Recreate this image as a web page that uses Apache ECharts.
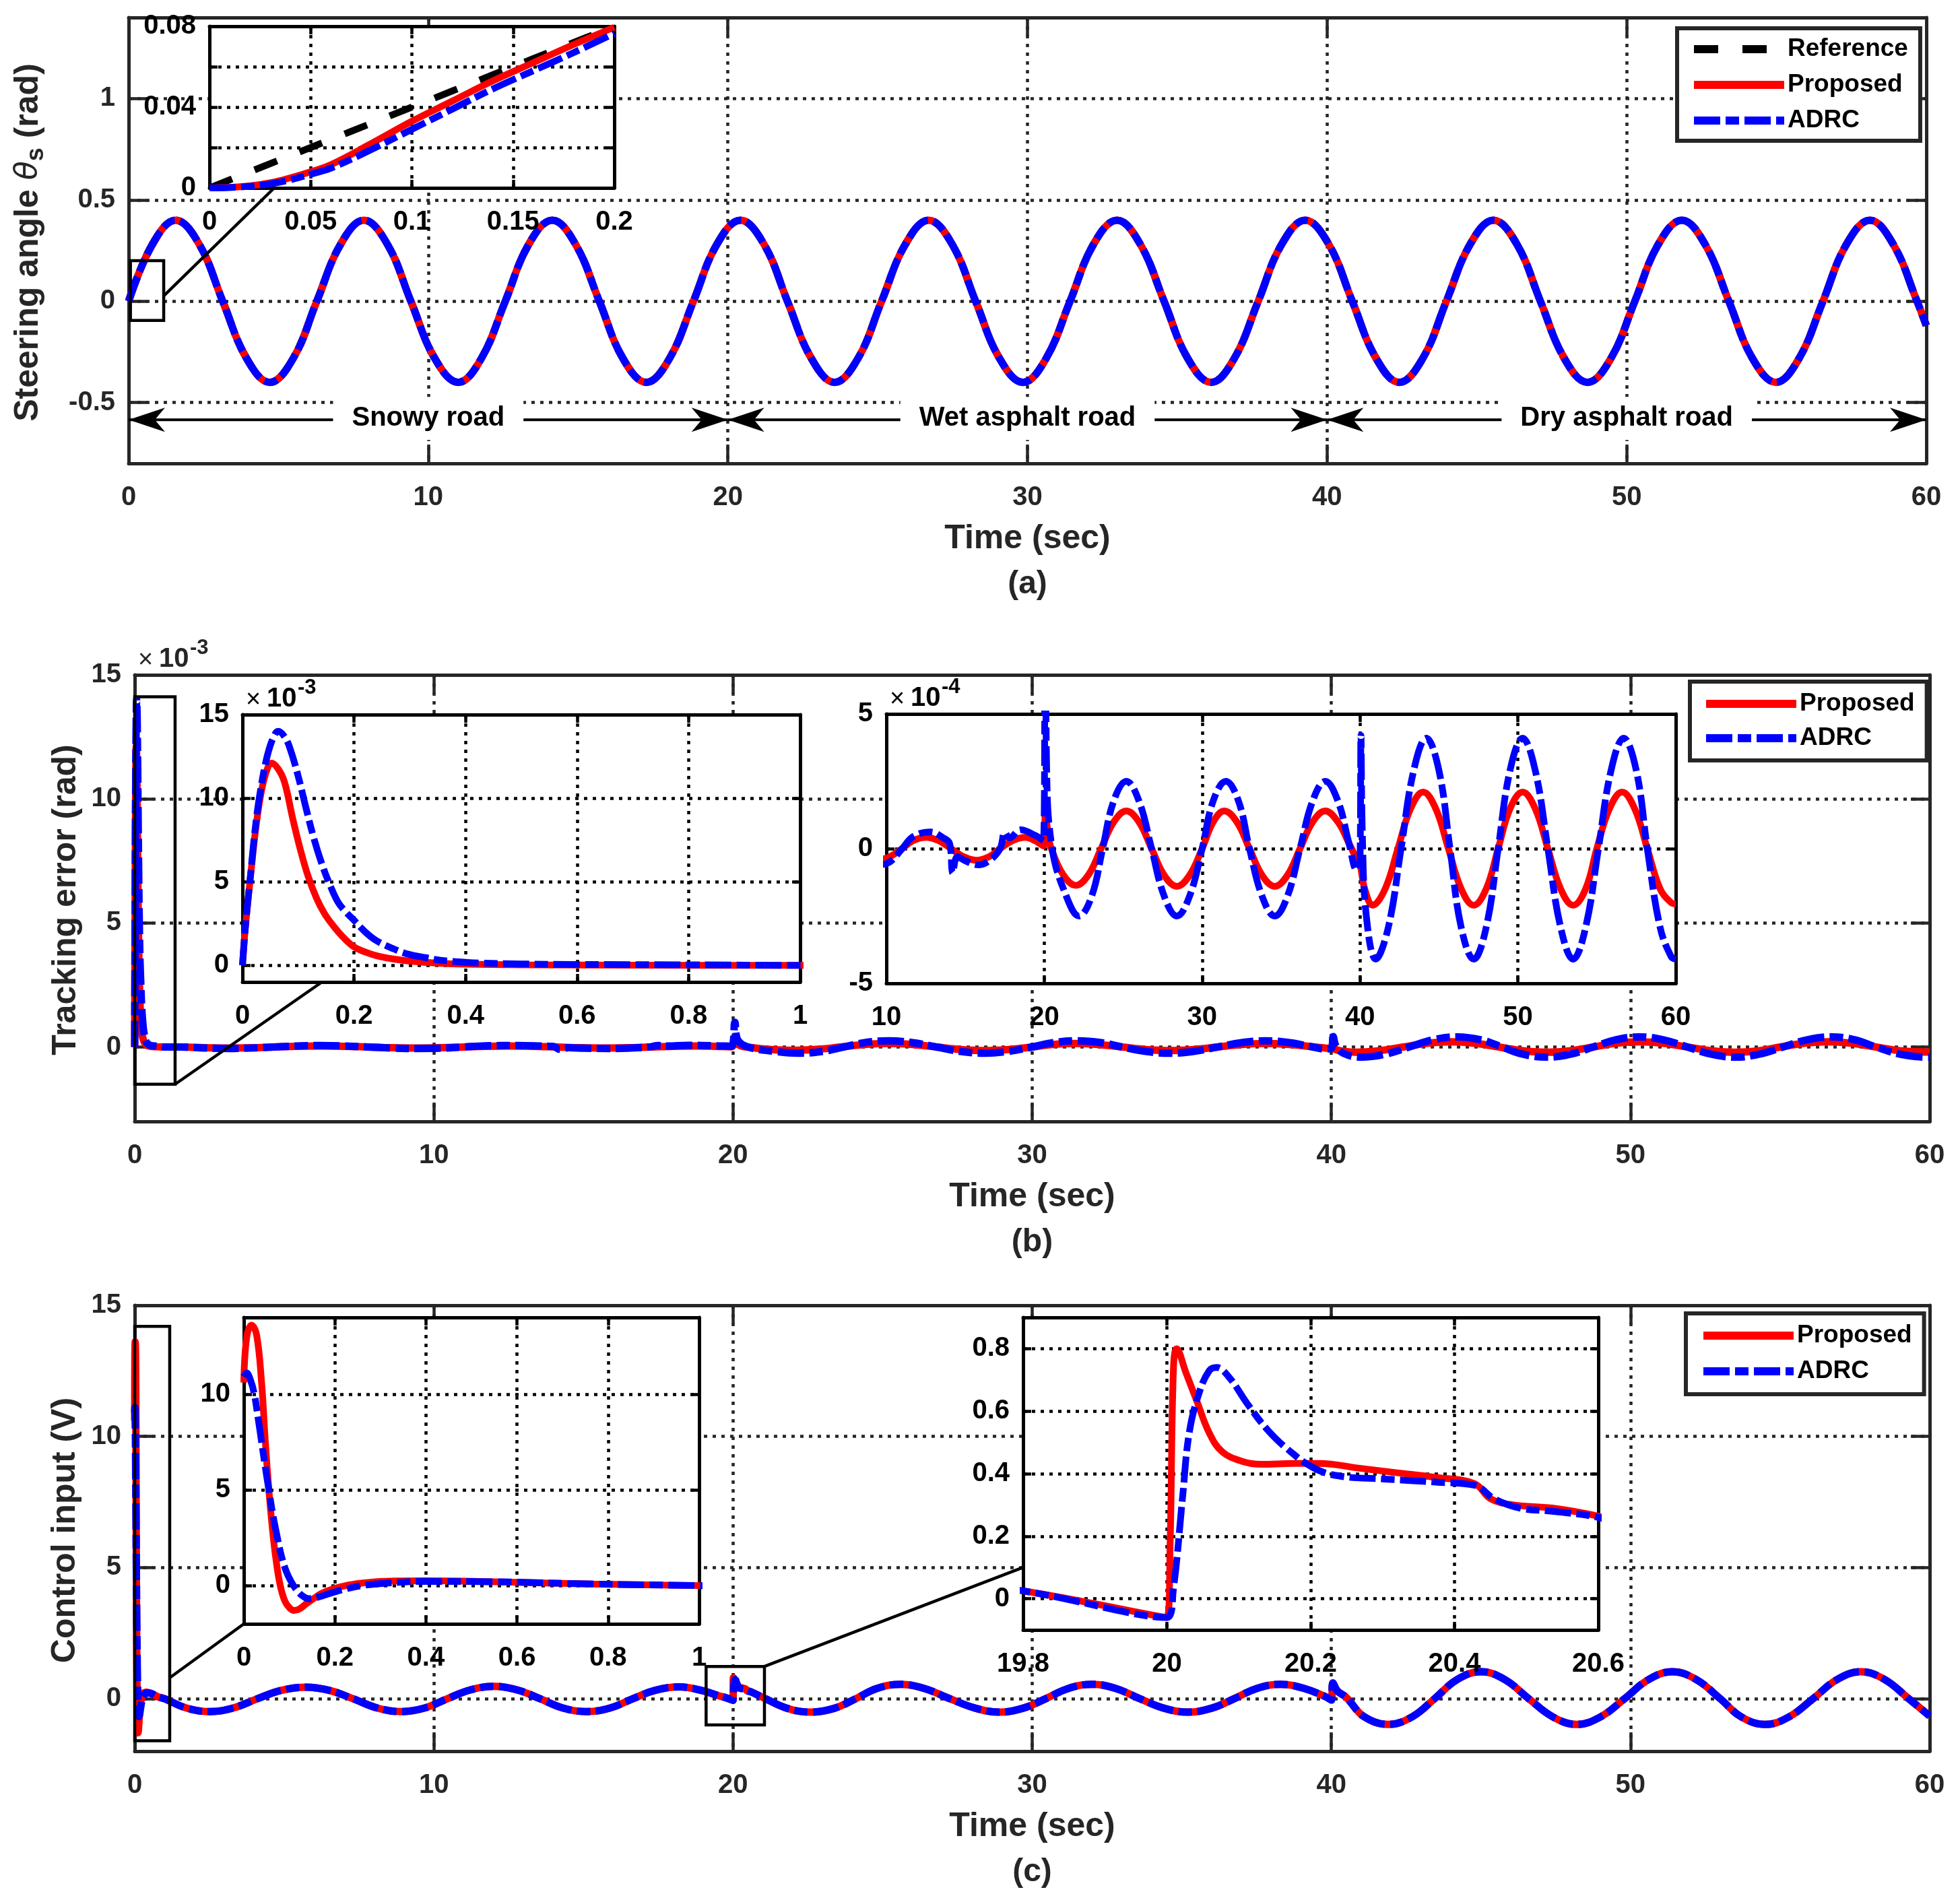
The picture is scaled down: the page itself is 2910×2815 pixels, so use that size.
<!DOCTYPE html>
<html>
<head>
<meta charset="utf-8">
<title>Steering angle, tracking error and control input</title>
<script src="https://cdn.jsdelivr.net/npm/echarts@6.0.0/dist/echarts.min.js"></script>
<style>
  html, body { margin: 0; padding: 0; background: #fff; }
  #chart { width: 2910px; height: 2815px; }
</style>
</head>
<body>
<div id="chart"></div>
<script>
// ---------- (a) steering angle (rad), read at peaks, zero crossings and mid points ----------
const steerTime = [
  0, 0.79, 1.57, 2.36, 3.14, 3.93, 4.71, 5.50,
  6.28, 7.07, 7.85, 8.64, 9.42, 10.21, 11.00, 11.78,
  12.57, 13.35, 14.14, 14.92, 15.71, 16.49, 17.28, 18.06,
  18.85, 19.63, 20.42, 21.21, 21.99, 22.78, 23.56, 24.35,
  25.13, 25.92, 26.70, 27.49, 28.27, 29.06, 29.85, 30.63,
  31.42, 32.20, 32.99, 33.77, 34.56, 35.34, 36.13, 36.91,
  37.70, 38.48, 39.27, 40.06, 40.84, 41.63, 42.41, 43.20,
  43.98, 44.77, 45.55, 46.34, 47.12, 47.91, 48.69, 49.48,
  50.27, 51.05, 51.84, 52.62, 53.41, 54.19, 54.98, 55.76,
  56.55, 57.33, 58.12, 58.90, 59.69, 60
];
const steerAngle = [
  0, 0.28, 0.40, 0.28, 0, -0.28, -0.40, -0.28,
  0, 0.28, 0.40, 0.28, 0, -0.28, -0.40, -0.28,
  0, 0.28, 0.40, 0.28, 0, -0.28, -0.40, -0.28,
  0, 0.28, 0.40, 0.28, 0, -0.28, -0.40, -0.28,
  0, 0.28, 0.40, 0.28, 0, -0.28, -0.40, -0.28,
  0, 0.28, 0.40, 0.28, 0, -0.28, -0.40, -0.28,
  0, 0.28, 0.40, 0.28, 0, -0.28, -0.40, -0.28,
  0, 0.28, 0.40, 0.28, 0, -0.28, -0.40, -0.28,
  0, 0.28, 0.40, 0.28, 0, -0.28, -0.40, -0.28,
  0, 0.28, 0.40, 0.28, 0, -0.12
];

// (a) zoom on the first 0.2 s
const startTime     = [0, 0.01, 0.02, 0.03, 0.04, 0.05, 0.06, 0.08, 0.10, 0.12, 0.14, 0.16, 0.18, 0.20];
const startRef      = [0, 0.004, 0.008, 0.012, 0.016, 0.020, 0.024, 0.032, 0.040, 0.048, 0.056, 0.064, 0.072, 0.080];
const startProposed = [0, 0.0003, 0.001, 0.0025, 0.005, 0.008, 0.0115, 0.022, 0.033, 0.043, 0.053, 0.062, 0.071, 0.0795];
const startAdrc     = [0, 0.0002, 0.0008, 0.002, 0.004, 0.0068, 0.0098, 0.019, 0.029, 0.039, 0.049, 0.058, 0.067, 0.0765];

// ---------- (b) tracking error, in 1e-3 rad ----------
const errProposedStart = [
  [0, 0], [0.005, 2.2], [0.015, 5.5], [0.025, 8.5], [0.035, 10.6], [0.045, 11.8], [0.052, 12.1],
  [0.063, 11.8], [0.075, 11.0], [0.09, 8.8], [0.104, 6.9], [0.118, 5.3], [0.133, 4.0], [0.147, 3.1],
  [0.162, 2.4], [0.18, 1.7], [0.2, 1.1], [0.22, 0.8], [0.24, 0.58], [0.27, 0.38], [0.3, 0.25],
  [0.35, 0.13], [0.4, 0.07], [0.5, 0.03], [0.7, 0.01], [1.0, 0]
];
const errAdrcStart = [
  [0, 0], [0.005, 2.2], [0.015, 5.6], [0.025, 8.8], [0.035, 11.0], [0.045, 12.6], [0.055, 13.6],
  [0.064, 14.0], [0.075, 13.7], [0.085, 13.0], [0.1, 11.3], [0.114, 9.4], [0.128, 7.6], [0.143, 6.0],
  [0.157, 4.8], [0.171, 3.8], [0.185, 3.2], [0.2, 2.7], [0.22, 2.0], [0.239, 1.5], [0.27, 1.0],
  [0.297, 0.67], [0.33, 0.45], [0.355, 0.3], [0.4, 0.18], [0.43, 0.13], [0.5, 0.08], [0.6, 0.05],
  [0.8, 0.03], [1.0, 0]
];
const errProposedRun = [
  [1.55, 0], [2.33, -0.03], [3.1, -0.042], [3.9, -0.03], [4.65, 0], [5.4, 0.03], [6.2, 0.042],
  [7.0, 0.03], [7.8, 0], [8.6, -0.03], [9.4, -0.042], [10.2, -0.03], [11.0, 0], [11.7, 0.03],
  [12.5, 0.042], [13.3, 0.03], [14.1, 0], [14.9, -0.03], [15.7, -0.043], [16.5, -0.03], [17.2, 0],
  [18.0, 0.03], [18.8, 0.042], [19.4, 0.03], [19.95, 0.01], [20.08, 0.135], [20.25, 0.05], [20.45, 0],
  [21.2, -0.097], [22.0, -0.136], [22.8, -0.097], [23.6, 0], [24.4, 0.099], [25.2, 0.14], [26.0, 0.099],
  [26.8, 0], [27.6, -0.099], [28.4, -0.14], [29.2, -0.099], [30.0, 0], [30.7, 0.099], [31.4, 0.14],
  [32.2, 0.099], [33.0, 0], [33.8, -0.099], [34.6, -0.14], [35.4, -0.099], [36.2, 0], [37.0, 0.099],
  [37.8, 0.14], [38.6, 0.099], [39.3, 0.02], [39.8, -0.04], [40.0, -0.06], [40.3, -0.15], [40.8, -0.21],
  [41.6, -0.148], [42.4, 0], [43.2, 0.148], [44.0, 0.21], [44.8, 0.148], [45.6, 0], [46.4, -0.148],
  [47.2, -0.21], [48.0, -0.148], [48.75, 0], [49.5, 0.148], [50.3, 0.21], [51.1, 0.148], [51.9, 0],
  [52.7, -0.148], [53.5, -0.21], [54.3, -0.148], [55.0, 0], [55.8, 0.148], [56.6, 0.21], [57.4, 0.148],
  [58.2, 0], [59.0, -0.148], [59.7, -0.2], [60, -0.205]
];
const errAdrcRun = [
  [1.55, 0], [2.33, -0.04], [3.1, -0.06], [3.9, -0.04], [4.65, 0], [5.4, 0.04], [6.2, 0.06],
  [7.0, 0.04], [7.8, 0], [8.6, -0.04], [9.4, -0.06], [10.2, -0.05], [11.0, 0], [11.7, 0.045],
  [12.8, 0.062], [13.6, 0.04], [14.0, 0.02], [14.2, -0.09], [14.5, -0.03], [15.0, -0.045], [15.8, -0.06],
  [16.5, -0.045], [17.2, 0], [17.5, 0.06], [17.8, 0.04], [18.5, 0.07], [19.4, 0.05], [19.95, 0.03],
  [20.06, 1.0], [20.15, 0.3], [20.5, 0], [21.4, -0.177], [22.2, -0.25], [23.0, -0.177], [23.7, 0],
  [24.4, 0.177], [25.2, 0.25], [26.0, 0.177], [26.8, 0], [27.6, -0.177], [28.4, -0.25], [29.2, -0.177],
  [30.0, 0], [30.7, 0.177], [31.5, 0.25], [32.3, 0.177], [33.0, 0], [33.8, -0.177], [34.6, -0.25],
  [35.4, -0.177], [36.2, 0], [37.0, 0.177], [37.8, 0.25], [38.6, 0.177], [39.3, 0.02], [39.8, -0.08],
  [40.0, -0.05], [40.06, 0.42], [40.15, 0.05], [40.4, -0.25], [41.0, -0.41], [41.8, -0.29], [42.6, 0],
  [43.4, 0.29], [44.2, 0.41], [45.0, 0.29], [45.7, 0], [46.4, -0.29], [47.2, -0.41], [48.0, -0.29],
  [48.75, 0], [49.5, 0.29], [50.3, 0.41], [51.1, 0.29], [51.9, 0], [52.7, -0.29], [53.5, -0.41],
  [54.3, -0.29], [55.1, 0], [55.9, 0.29], [56.7, 0.41], [57.5, 0.29], [58.2, 0], [59.0, -0.29],
  [59.7, -0.40], [60, -0.41]
];

// ---------- (c) control input (V) ----------
const uProposedStart = [
  [0, 10.6], [0.0065, 13.0], [0.017, 13.6], [0.028, 13.1], [0.039, 10.6], [0.047, 7.6], [0.055, 5.0],
  [0.063, 2.9], [0.071, 1.3], [0.08, 0], [0.09, -0.8], [0.1, -1.15], [0.11, -1.3], [0.122, -1.22],
  [0.137, -0.95], [0.155, -0.65], [0.17, -0.42], [0.195, -0.18], [0.224, 0], [0.255, 0.12], [0.289, 0.2],
  [0.34, 0.24], [0.397, 0.25], [0.55, 0.2], [0.767, 0.08], [1.0, 0]
];
const uAdrcStart = [
  [0, 10.9], [0.006, 11.1], [0.015, 10.7], [0.023, 10.0], [0.031, 8.8], [0.039, 7.5], [0.047, 6.2],
  [0.055, 5.0], [0.063, 3.8], [0.072, 2.7], [0.082, 1.6], [0.093, 0.75], [0.104, 0.2], [0.115, -0.2],
  [0.128, -0.52], [0.142, -0.68], [0.16, -0.62], [0.18, -0.48], [0.2, -0.33], [0.224, -0.17], [0.26, 0],
  [0.289, 0.08], [0.34, 0.17], [0.397, 0.22], [0.55, 0.2], [0.767, 0.08], [1.0, 0]
];
const uSlowBefore = [
  [1.72, -0.35], [2.5, -0.49], [3.3, -0.35], [4.1, 0], [4.9, 0.32], [5.74, 0.44], [6.5, 0.32], [7.3, 0],
  [8.1, -0.35], [8.9, -0.49], [9.7, -0.35], [10.45, 0], [11.2, 0.33], [12.0, 0.47], [12.8, 0.33],
  [13.55, 0], [14.3, -0.35], [15.1, -0.49], [15.9, -0.35], [16.65, 0], [17.4, 0.32], [18.2, 0.45],
  [19.0, 0.3], [19.5, 0.12]
];
const uProposedJump = [
  [19.8, 0.025], [20.0, -0.06], [20.0045, 0.18], [20.009, 0.73], [20.0135, 0.8], [20.027, 0.72],
  [20.042, 0.63], [20.059, 0.53], [20.077, 0.47], [20.104, 0.44], [20.131, 0.43], [20.176, 0.433],
  [20.212, 0.433], [20.266, 0.418], [20.32, 0.403], [20.374, 0.388], [20.428, 0.368], [20.45, 0.32],
  [20.482, 0.30], [20.536, 0.29], [20.6, 0.264]
];
const uAdrcJump = [
  [19.8, 0.025], [20.0, -0.06], [20.009, 0.03], [20.022, 0.33], [20.031, 0.53], [20.045, 0.66],
  [20.059, 0.73], [20.069, 0.74], [20.086, 0.71], [20.113, 0.62], [20.14, 0.54], [20.167, 0.48],
  [20.203, 0.42], [20.239, 0.393], [20.302, 0.383], [20.374, 0.373], [20.428, 0.363], [20.455, 0.32],
  [20.491, 0.29], [20.536, 0.28], [20.6, 0.26]
];
const uSlowAfter = [
  [21.0, 0.05], [21.8, -0.36], [22.6, -0.51], [23.4, -0.36], [24.1, 0], [24.8, 0.39], [25.6, 0.55],
  [26.4, 0.39], [27.25, 0], [28.1, -0.36], [28.9, -0.51], [29.7, -0.36], [30.45, 0], [31.2, 0.39],
  [32.0, 0.55], [32.8, 0.39], [33.6, 0], [34.4, -0.36], [35.2, -0.51], [36.0, -0.36], [36.75, 0],
  [37.5, 0.39], [38.3, 0.55], [39.1, 0.39], [39.8, 0.08], [40.0, -0.05], [40.05, 0.6], [40.2, 0.3],
  [40.5, 0.05], [41.1, -0.69], [41.9, -0.98], [42.7, -0.69], [43.45, 0], [44.2, 0.73], [45.0, 1.03],
  [45.8, 0.73], [46.6, 0], [47.4, -0.69], [48.2, -0.98], [49.0, -0.69], [49.8, 0], [50.6, 0.73],
  [51.4, 1.03], [52.2, 0.73], [53.0, 0], [53.7, -0.69], [54.5, -0.98], [55.3, -0.69], [56.1, 0],
  [56.9, 0.73], [57.7, 1.03], [58.5, 0.73], [59.3, 0], [60, -0.66]
];

// road sections in (a)
const roadNames = ['Snowy road', 'Wet asphalt road', 'Dry asphalt road'];
const roadBounds = [0, 20, 40, 60];
const roadArrowLevel = -0.585;

// ---------- layout ----------
const FONT = '"Liberation Sans", Arial, Helvetica, sans-serif';
const INK = '#262626';
const tMain = [0, 10, 20, 30, 40, 50, 60];

// one frame per axes box: 0 (a), 1 (a) inset, 2 (b), 3-4 (b) insets, 5 (c), 6-7 (c) insets
const frames = [
  { main: true, left: 191, top: 26, width: 2669, height: 662, xMin: 0, xMax: 60, xTicks: tMain,
    yMin: -0.8, yMax: 1.4, yTicks: [-0.5, 0, 0.5, 1] },
  { left: 311, top: 39, width: 601, height: 240, xMin: 0, xMax: 0.2, xTicks: [0, 0.05, 0.1, 0.15, 0.2],
    yMin: 0, yMax: 0.08, yTicks: [0, 0.02, 0.04, 0.06, 0.08], yLabels: [0, 0.04, 0.08] },
  { main: true, left: 200, top: 1002, width: 2665, height: 663, xMin: 0, xMax: 60, xTicks: tMain,
    yMin: -3, yMax: 15, yTicks: [0, 5, 10, 15] },
  { left: 360, top: 1061, width: 828, height: 397, xMin: 0, xMax: 1, xTicks: [0, 0.2, 0.4, 0.6, 0.8, 1],
    yMin: -1, yMax: 15, yTicks: [0, 5, 10, 15] },
  { left: 1316, top: 1060, width: 1172, height: 400, xMin: 10, xMax: 60, xTicks: [10, 20, 30, 40, 50, 60],
    yMin: -0.5, yMax: 0.5, yTicks: [-0.5, 0, 0.5], yFmt: v => String(Math.round(v * 10)) },
  { main: true, left: 200, top: 1938, width: 2665, height: 662, xMin: 0, xMax: 60, xTicks: tMain,
    yMin: -2, yMax: 15, yTicks: [0, 5, 10, 15] },
  { left: 362, top: 1956, width: 676, height: 455, xMin: 0, xMax: 1, xTicks: [0, 0.2, 0.4, 0.6, 0.8, 1],
    yMin: -2, yMax: 14, yTicks: [0, 5, 10] },
  { left: 1519, top: 1956, width: 854, height: 464, xMin: 19.8, xMax: 20.6, xTicks: [19.8, 20, 20.2, 20.4, 20.6],
    yMin: -0.1, yMax: 0.9, yTicks: [0, 0.2, 0.4, 0.6, 0.8] }
];

const styles = {
  Reference: { color: '#000000', type: [36, 36] },
  Proposed: { color: '#ff0000', type: 'solid' },
  ADRC: { color: '#0000ff', type: [39, 8, 20, 8] }
};

const pairs = (ts, vs) => ts.map((t, i) => [t, vs[i]]);
const steerData = pairs(steerTime, steerAngle);
const errProposed = errProposedStart.concat(errProposedRun);
const errAdrc = errAdrcStart.concat(errAdrcRun);
const uProposed = uProposedStart.concat(uSlowBefore, uProposedJump, uSlowAfter);
const uAdrc = uAdrcStart.concat(uSlowBefore, uAdrcJump, uSlowAfter);

const plan = [
  [0, 'Reference', steerData], [0, 'Proposed', steerData], [0, 'ADRC', steerData],
  [1, 'Reference', pairs(startTime, startRef)], [1, 'Proposed', pairs(startTime, startProposed)],
  [1, 'ADRC', pairs(startTime, startAdrc)],
  [2, 'Proposed', errProposed], [2, 'ADRC', errAdrc],
  [3, 'Proposed', errProposed], [3, 'ADRC', errAdrc],
  [4, 'Proposed', errProposed], [4, 'ADRC', errAdrc],
  [5, 'Proposed', uProposed], [5, 'ADRC', uAdrc],
  [6, 'Proposed', uProposed], [6, 'ADRC', uAdrc],
  [7, 'Proposed', uProposed], [7, 'ADRC', uAdrc]
];

const fmt = v => String(+(+v).toFixed(3));
const grid = [], xAxis = [], yAxis = [];
frames.forEach((f, g) => {
  const ink = f.main ? INK : '#000';
  const z = f.main ? 0 : 6;
  grid.push({ left: f.left, top: f.top, width: f.width, height: f.height, show: !f.main,
    backgroundColor: '#fff', borderWidth: 0, z: f.main ? 0 : 5 });
  const axisLine = { show: true, onZero: false, lineStyle: { color: ink, width: 5 } };
  const tick = vals => ({ show: true, inside: true, length: f.main ? 28 : 12, customValues: vals,
    lineStyle: { color: ink, width: 4.5 } });
  const split = { show: true, lineStyle: { color: ink, width: 4.5, type: [5, 8] } };
  const label = (vals, margin, formatter) => ({ show: true, customValues: vals, margin, formatter,
    fontSize: 40, fontWeight: 'bold', fontFamily: FONT, color: ink });
  const off = { show: false };
  xAxis.push({ type: 'value', gridIndex: g, position: 'bottom', min: f.xMin, max: f.xMax, z,
    axisLine, axisTick: tick(f.xTicks), axisLabel: label(f.xTicks, 31, fmt), splitLine: split });
  xAxis.push({ type: 'value', gridIndex: g, position: 'top', min: f.xMin, max: f.xMax, z,
    axisLine, axisTick: tick(f.xTicks), axisLabel: off, splitLine: off });
  yAxis.push({ type: 'value', gridIndex: g, position: 'left', min: f.yMin, max: f.yMax, z,
    axisLine, axisTick: tick(f.yTicks), axisLabel: label(f.yLabels || f.yTicks, 20, f.yFmt || fmt),
    splitLine: split });
  yAxis.push({ type: 'value', gridIndex: g, position: 'right', min: f.yMin, max: f.yMax, z,
    axisLine, axisTick: tick(f.yTicks), axisLabel: off, splitLine: off });
});

const series = plan.map(([g, name, data]) => ({
  name, type: 'line', data, xAxisIndex: 2 * g, yAxisIndex: 2 * g,
  symbol: 'none', showSymbol: false, smooth: 0.4, clip: true,
  z: frames[g].main ? 2 : 7,
  lineStyle: Object.assign({ width: frames[g].main ? 11 : 10 }, styles[name]),
  emphasis: { disabled: true }
}));

const legendBase = {
  orient: 'vertical', itemWidth: 134, itemHeight: 40, selectedMode: false,
  borderColor: INK, borderWidth: 6, borderRadius: 0, backgroundColor: '#fff',
  lineStyle: { width: 12 },
  itemStyle: { color: 'rgba(0,0,0,0)', borderColor: 'rgba(0,0,0,0)', borderWidth: 0 },
  textStyle: { fontSize: 37, fontWeight: 'bold', fontFamily: FONT, color: '#000', lineHeight: 40 }
};
const legend = [
  { data: ['Reference', 'Proposed', 'ADRC'], left: 2490, top: 42, padding: [11, 18, 10, 19], itemGap: 13 },
  { data: ['Proposed', 'ADRC'], left: 2509, top: 1012, padding: [13, 18, 13, 18], itemGap: 11 },
  { data: ['Proposed', 'ADRC'], left: 2503, top: 1950, padding: [13, 18, 14, 20], itemGap: 13 }
].map(l => Object.assign({}, legendBase, l));

const chart = echarts.init(document.getElementById('chart'));
chart.setOption({
  animation: false,
  backgroundColor: '#fff',
  textStyle: { fontFamily: FONT },
  grid, xAxis, yAxis, legend, series
});

// ---------- annotations, placed from data coordinates ----------
const zoomBoxes = [
  { g: 0, x: [0.06, 1.17], y: [-0.095, 0.2] },
  { g: 2, x: [0, 1.35], y: [-1.5, 14.12] },
  { g: 5, x: [0, 1.17], y: [-1.6, 14.2] },
  { g: 5, x: [19.1, 21.05], y: [-1.0, 1.23] }
];
const connectors = [
  { from: [0, 1.17, 0.026], to: [1, 0.032, 0] },
  { from: [2, 1.35, -1.5], to: [3, 0.1425, -1] },
  { from: [5, 1.17, 0.8], to: [6, 0, -2] },
  { from: [5, 21.05, 1.23], to: [7, 19.8, 0.1] }
];

const P = (g, x, y) => chart.convertToPixel({ xAxisIndex: 2 * g, yAxisIndex: 2 * g }, [x, y]);
const els = [];
const txt = (x, y, text, size, extra) => ({
  type: 'text', x, y, z: 20,
  style: Object.assign({ text, fontSize: size, fontWeight: 'bold', fontFamily: FONT, fill: INK,
    align: 'center', verticalAlign: 'middle', textAlign: 'center', textVerticalAlign: 'middle' }, extra || {})
});

zoomBoxes.forEach(b => {
  const a = P(b.g, b.x[0], b.y[1]), c = P(b.g, b.x[1], b.y[0]);
  els.push({ type: 'rect', z: 3, shape: { x: a[0], y: a[1], width: c[0] - a[0], height: c[1] - a[1] },
    style: { fill: 'none', stroke: '#000', lineWidth: 4.5 } });
});
connectors.forEach(k => {
  const a = P(k.from[0], k.from[1], k.from[2]), c = P(k.to[0], k.to[1], k.to[2]);
  els.push({ type: 'line', z: 3, shape: { x1: a[0], y1: a[1], x2: c[0], y2: c[1] },
    style: { stroke: '#000', lineWidth: 4.5 } });
});

// double arrows with the road names
const headLen = 54, headHalf = 18;
const head = (tip, dir) => ({
  type: 'polygon', z: 4,
  shape: { points: [
    [tip[0], tip[1]],
    [tip[0] - dir * headLen, tip[1] - headHalf],
    [tip[0] - dir * headLen * 0.72, tip[1]],
    [tip[0] - dir * headLen, tip[1] + headHalf]
  ] },
  style: { fill: '#000' }
});
roadNames.forEach((name, i) => {
  const a = P(0, roadBounds[i], roadArrowLevel), c = P(0, roadBounds[i + 1], roadArrowLevel);
  els.push({ type: 'line', z: 4, shape: { x1: a[0], y1: a[1], x2: c[0], y2: c[1] },
    style: { stroke: '#000', lineWidth: 4 } });
  els.push(head(a, -1), head(c, 1));
  const m = P(0, (roadBounds[i] + roadBounds[i + 1]) / 2, roadArrowLevel);
  els.push(txt(m[0], m[1] - 2, name, 40, { fill: '#000', backgroundColor: '#fff', padding: [12, 28] }));
});

// axis titles and captions
[[0, '(a)'], [2, '(b)'], [5, '(c)']].forEach(([g, cap]) => {
  const f = frames[g], cx = f.left + f.width / 2, bottom = f.top + f.height;
  els.push(txt(cx, bottom + 112, 'Time (sec)', 50));
  els.push(txt(cx, bottom + 180, cap, 48));
});
const richBase = { fontSize: 50, fontWeight: 'bold', fontFamily: FONT, fill: INK, color: INK, lineHeight: 60 };
els.push({
  type: 'text', x: 42, y: 360, rotation: Math.PI / 2, z: 20,
  style: {
    text: '{n|Steering angle }{t|θ}{s|s}{n| (rad)}',
    align: 'center', verticalAlign: 'middle', textAlign: 'center', textVerticalAlign: 'middle',
    rich: {
      n: richBase,
      t: Object.assign({}, richBase, { fontStyle: 'italic', fontWeight: 'normal',
        fontFamily: '"DejaVu Sans", sans-serif', fontSize: 46 }),
      s: Object.assign({}, richBase, { fontSize: 36, lineHeight: 28, verticalAlign: 'bottom' })
    }
  }
});
const yTitleB = txt(98, 1336, 'Tracking error (rad)', 50);
yTitleB.rotation = Math.PI / 2;
const yTitleC = txt(97, 2272, 'Control input (V)', 50);
yTitleC.rotation = Math.PI / 2;
els.push(yTitleB, yTitleC);

// axis exponents
[[2, '-3'], [3, '-3'], [4, '-4']].forEach(([g, e]) => {
  const f = frames[g], ink = f.main ? INK : '#000';
  const left = { align: 'left', textAlign: 'left', fill: ink };
  els.push(txt(f.left + 5, f.top - 21, '×', 38, Object.assign({ fontWeight: 'normal' }, left)));
  els.push(txt(f.left + 36, f.top - 23, '10', 40, left));
  els.push(txt(f.left + 82, f.top - 40, e, 31, left));
});

chart.setOption({ graphic: { elements: els } });
</script>
</body>
</html>
